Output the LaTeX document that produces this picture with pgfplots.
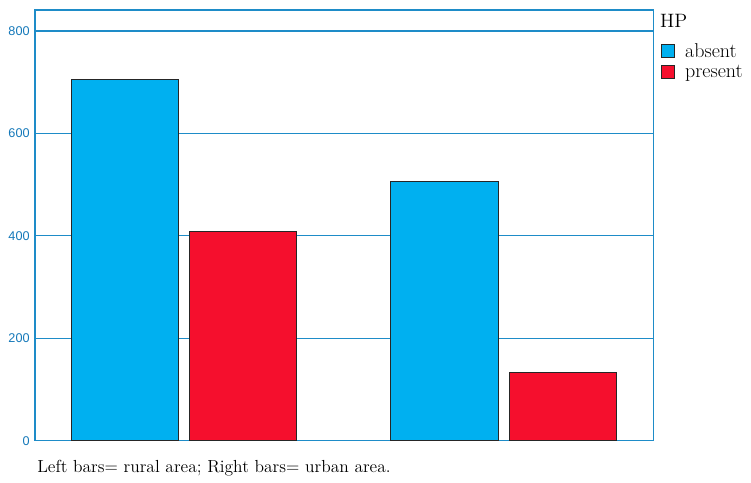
\documentclass[border=0pt]{standalone}
\usepackage{fontspec}
\newfontfamily\ticksans{Liberation Sans}
\usepackage{pgfplots}
\pgfplotsset{compat=1.18}

\definecolor{axblue}{RGB}{30,140,200}
\definecolor{tickblue}{RGB}{20,120,185}
\definecolor{barblue}{RGB}{0,176,240}
\definecolor{barred}{RGB}{245,15,45}

\begin{document}
\begin{tikzpicture}
\begin{axis}[
    width=464pt, height=323pt, scale only axis, clip=false,
    ybar=8.6pt, bar width=80.25pt,
    xmin=-0.465, xmax=1.4695,
    ymin=0, ymax=841,
    xtick=\empty,
    ytick={0,200,400,600,800},
    ymajorgrids,
    grid style={axblue, line width=0.8pt},
    axis line style={axblue, line width=0.8pt},
    major tick length=0pt,
    /pgf/number format/assume math mode=true,
    yticklabel style={font=\ticksans\fontsize{9.5}{11}\selectfont, text=tickblue, xshift=-0.5pt},
    legend style={at={(1,1)}, anchor=north west, xshift=5pt, yshift=-23pt,
        draw=none, fill=none, inner sep=0pt, row sep=0pt,
        font=\fontsize{15}{15}\selectfont, cells={anchor=west}},
    legend image code/.code={\draw[#1] (0pt,-4.6pt) rectangle (9.75pt,5.15pt); \path (15.5pt,0pt);},
    every axis plot/.append style={draw=black!85, line width=0.7pt},
]
\addplot[fill=barblue] coordinates {(0,705) (1,507)};
\addlegendentry{absent}
\addplot[fill=barred] coordinates {(0,408) (1,133)};
\addlegendentry{present}
\coordinate (bl) at (rel axis cs:0,0);
\coordinate (tr) at (rel axis cs:1,1);
\node[anchor=base west, font=\fontsize{14.5}{15}\selectfont, inner sep=0pt]
    at (rel axis cs:1,1) [xshift=4.5pt, yshift=-12.75pt] {HP};
\node[anchor=base west, font=\fontsize{13.1}{15}\selectfont, inner sep=0pt]
    at (rel axis cs:0,0) [xshift=1.5pt, yshift=-24pt] {Left bars= rural area; Right bars= urban area.};
\end{axis}
\pgfresetboundingbox
\path ([xshift=-26.25pt, yshift=-31.5pt]bl) rectangle ([xshift=72.75pt, yshift=7.5pt]tr);
\end{tikzpicture}
\end{document}
